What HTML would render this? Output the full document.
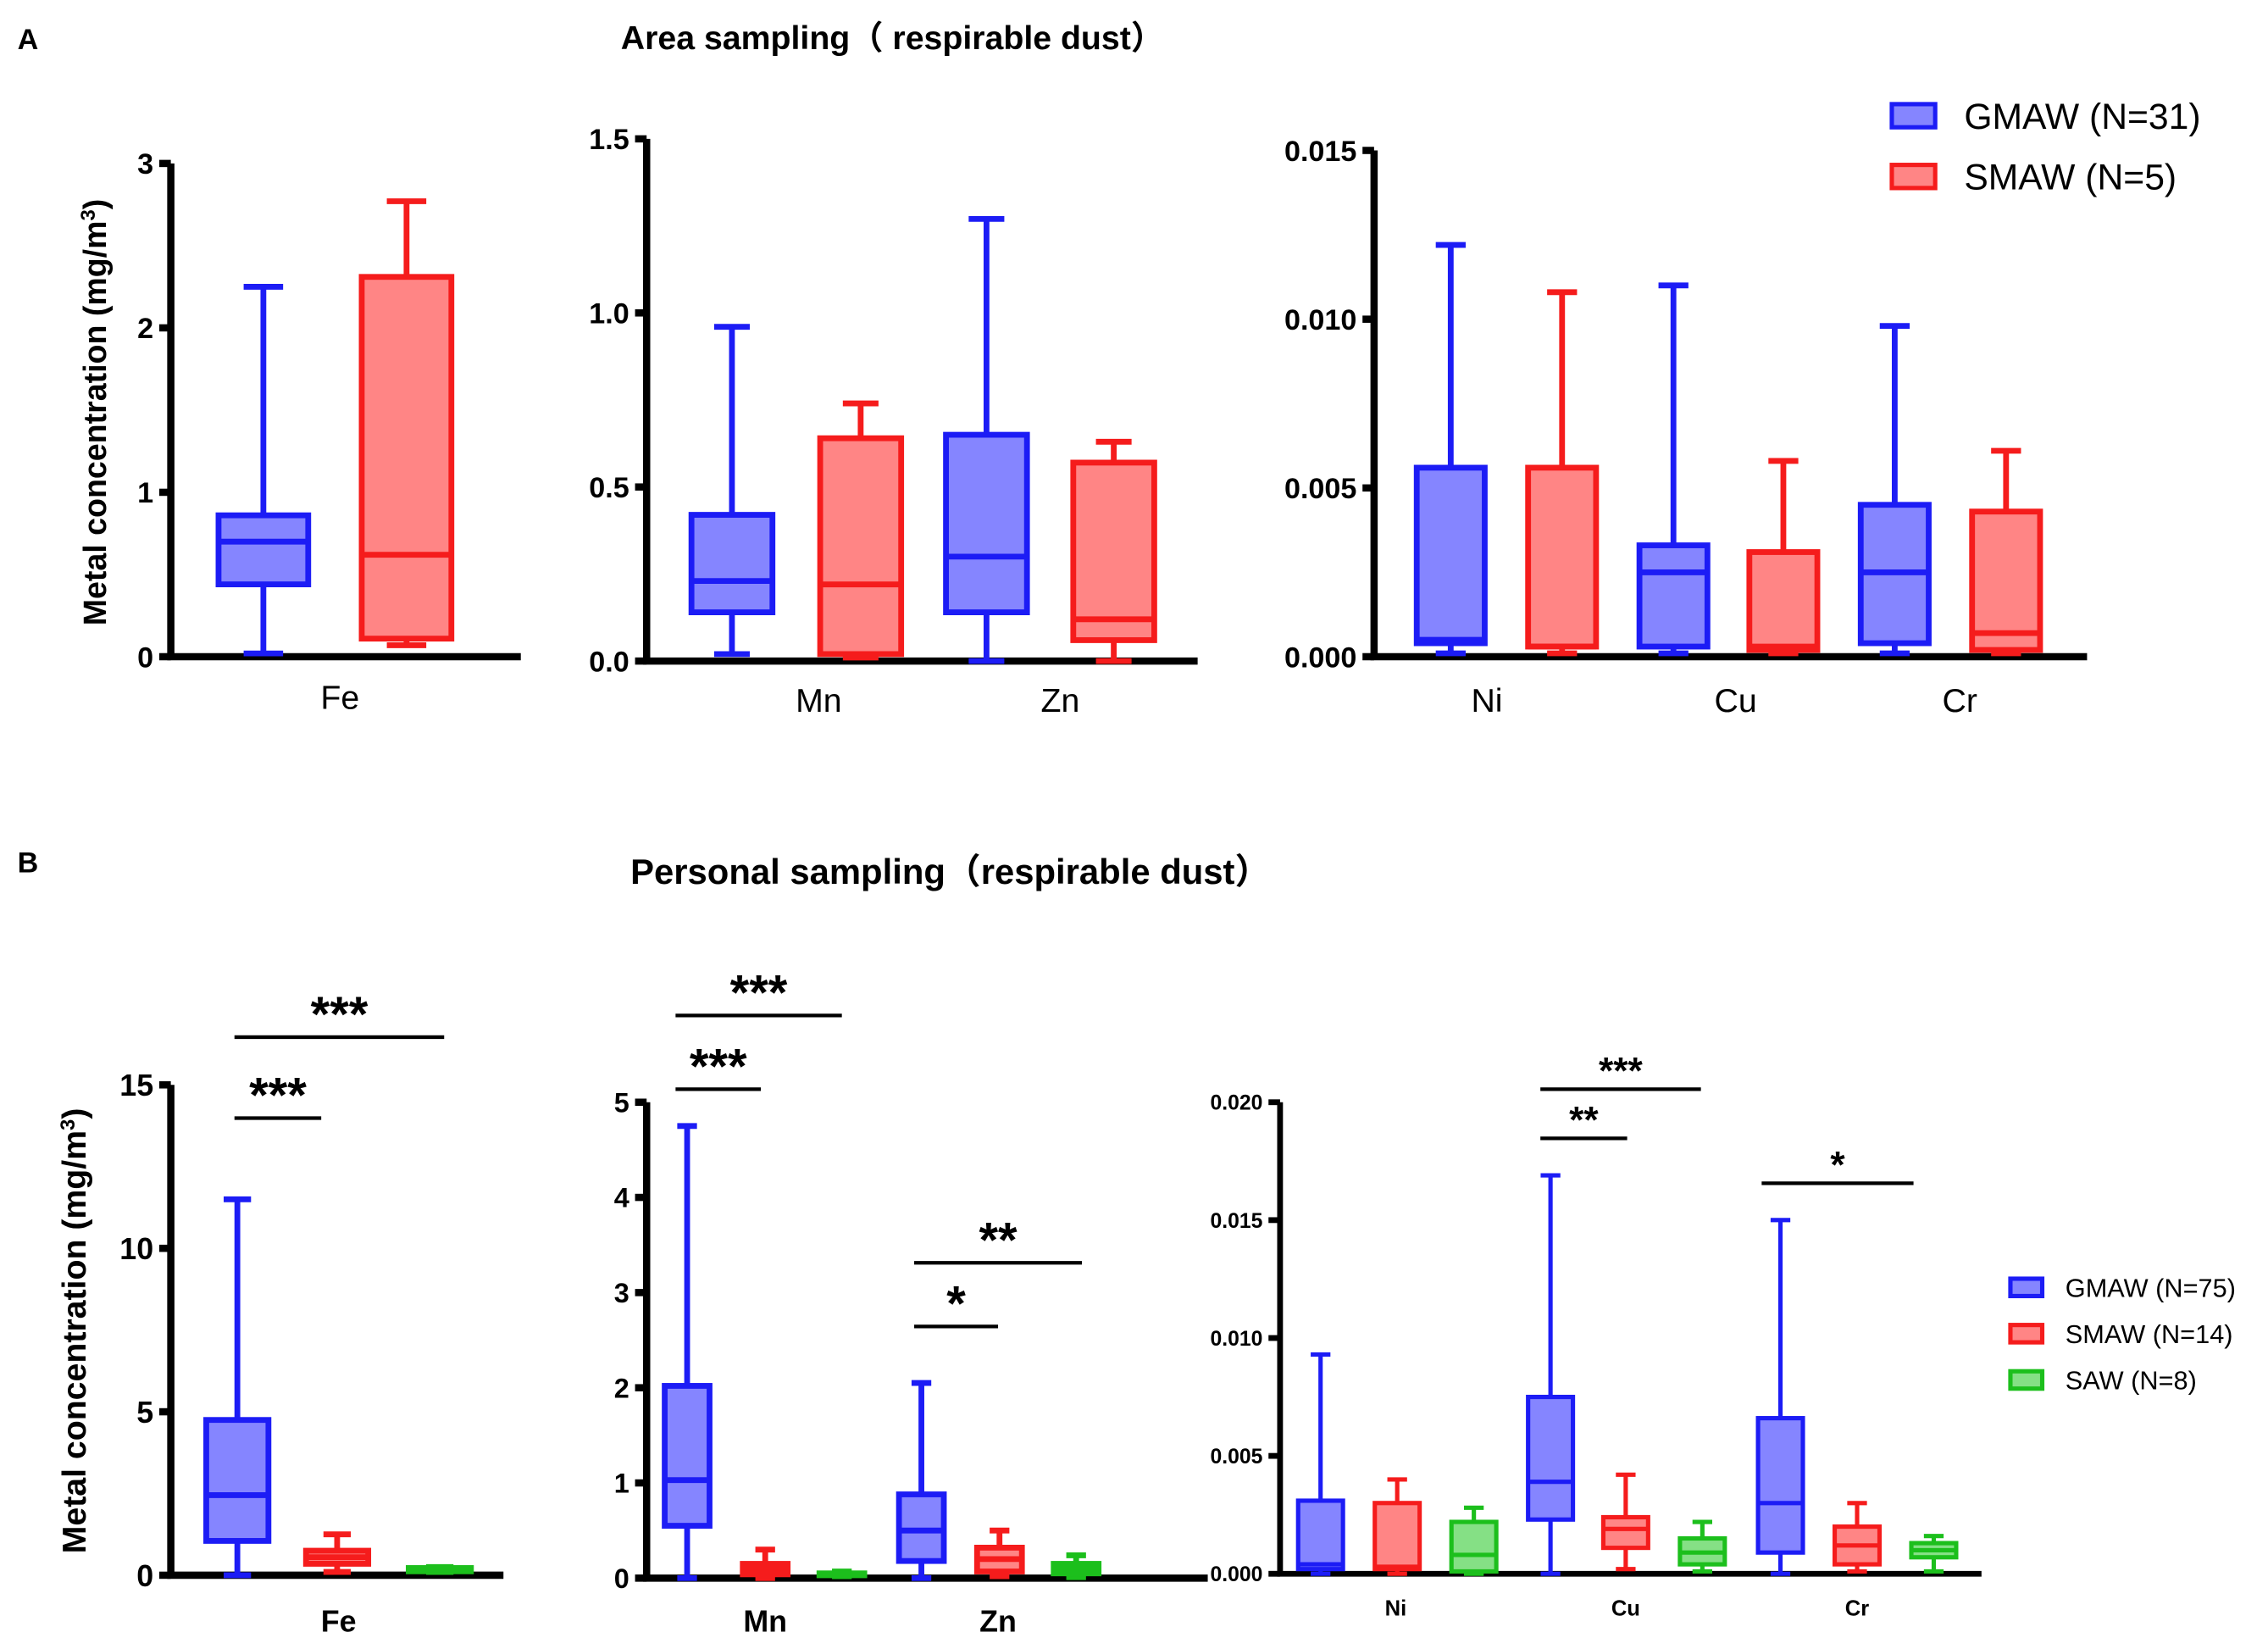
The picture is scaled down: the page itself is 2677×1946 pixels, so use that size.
<!DOCTYPE html>
<html><head><meta charset="utf-8">
<style>
html,body{margin:0;padding:0;background:#fff;}
svg{display:block;}
text{font-family:"Liberation Sans","Noto Sans CJK SC",sans-serif;}
</style></head>
<body>
<svg id="chart" width="2677" height="1946" viewBox="0 0 1568 1140" xmlns="http://www.w3.org/2000/svg">
<text x="12" y="34" font-size="20" font-weight="bold">A</text>
<text x="617" y="34" font-size="23" font-weight="bold" text-anchor="middle">Area sampling（ respirable dust）</text>
<text x="12" y="603" font-size="20" font-weight="bold">B</text>
<text x="657" y="611" font-size="24.5" font-weight="bold" text-anchor="middle">Personal sampling（respirable dust）</text>
<text transform="translate(73,285) rotate(-90)" font-size="22" font-weight="bold" text-anchor="middle">Metal concentration (mg/m<tspan baseline-shift="super" font-size="14">3</tspan>)</text>
<text transform="translate(59,920) rotate(-90)" font-size="23" font-weight="bold" text-anchor="middle">Metal concentration (mg/m<tspan baseline-shift="super" font-size="14">3</tspan>)</text>
<g id="plots"></g>
</svg>
<script>
// Data arrays: each box = [min, q1, median, q3, max]
const a1Cats = ["Fe"];
const a1Boxes = [[0.02,0.44,0.70,0.86,2.25],[0.07,0.11,0.62,2.31,2.77]];
const a1Ticks = ["0","1","2","3"];
const a2Cats = ["Mn","Zn"];
const a2Boxes = [[0.02,0.14,0.23,0.42,0.96],[0.01,0.02,0.22,0.64,0.74],[0.0,0.14,0.30,0.65,1.27],[0.0,0.06,0.12,0.57,0.63]];
const a2Ticks = ["0.0","0.5","1.0","1.5"];
const a3Cats = ["Ni","Cu","Cr"];
const a3Boxes = [[0.0001,0.0004,0.0005,0.0056,0.0122],[0.0001,0.0003,0.0003,0.0056,0.0108],[0.0001,0.0003,0.0025,0.0033,0.0110],[0.0001,0.0002,0.0003,0.0031,0.0058],[0.0001,0.0004,0.0025,0.0045,0.0098],[0.0001,0.0002,0.0007,0.0043,0.0061]];
const a3Ticks = ["0.000","0.005","0.010","0.015"];
const b1Cats = ["Fe"];
const b1Boxes = [[0,1.05,2.45,4.75,11.5],[0.1,0.35,0.55,0.75,1.25],[0.1,0.12,0.18,0.22,0.25]];
const b1Ticks = ["0","5","10","15"];
const b2Cats = ["Mn","Zn"];
const b2Boxes = [[0,0.55,1.03,2.02,4.75],[0,0.04,0.1,0.15,0.3],[0.02,0.03,0.04,0.05,0.07],[0,0.18,0.5,0.88,2.05],[0.02,0.07,0.2,0.32,0.5],[0.01,0.05,0.1,0.15,0.24]];
const b2Ticks = ["0","1","2","3","4","5"];
const b3Cats = ["Ni","Cu","Cr"];
const b3Boxes = [[0,0.0002,0.0004,0.0031,0.0093],[0,0.0002,0.0003,0.0030,0.0040],[0,0.0001,0.0008,0.0022,0.0028],[0,0.0023,0.0039,0.0075,0.0169],[0.0002,0.0011,0.0019,0.0024,0.0042],[0.0001,0.0004,0.0009,0.0015,0.0022],[0,0.0009,0.003,0.0066,0.0150],[0.0001,0.0004,0.0012,0.002,0.003],[0.0001,0.0007,0.001,0.0013,0.0016]];
const b3Ticks = ["0.000","0.005","0.010","0.015","0.020"];
const legendA = ["GMAW (N=31)","SMAW (N=5)"];
const legendB = ["GMAW (N=75)","SMAW (N=14)","SAW (N=8)"];

const NS="http://www.w3.org/2000/svg";
const root=document.getElementById('plots');
const STROKE=["#1c1cf5","#f51c1c","#1cbf1c"];
const FILL=["#8585ff","#ff8585","#85e085"];
function el(tag,attrs,parent){const e=document.createElementNS(NS,tag);for(const k in attrs)e.setAttribute(k,attrs[k]);(parent||root).appendChild(e);return e;}

function panel(cfg){
  const {id,ax,x0,x1,y0,y1,max,ticks,cats,boxes,nGroups,boxXs,boxW,catXs,catY,catSize,catBold,tickSize,sw}=cfg;
  const g=el('g',{});
  
  
  const y=v=>y0-(v/max)*(y0-y1);
  const axis=el('path',{d:`M${ax},${y1} L${ax},${y0} L${x1},${y0}`,stroke:'#000','stroke-width':sw+1,fill:'none'},g);
  
  
  ticks.forEach((t,i)=>{
    const v=max*i/(ticks.length-1);
    el('line',{x1:ax-8,x2:ax,y1:y(v),y2:y(v),stroke:'#000','stroke-width':sw+1},g);
    const tx=el('text',{x:ax-12,y:y(v)+tickSize*0.36,'font-size':tickSize,'font-weight':'bold','text-anchor':'end'},g);
    tx.textContent=t;
    
    
  });
  cats.forEach((c,i)=>{
    const tx=el('text',{x:catXs[i],y:catY,'font-size':catSize,'font-weight':catBold?'bold':'normal','text-anchor':'middle'},g);
    tx.textContent=c;
    
    
  });
  boxes.forEach((b,i)=>{
    const k=i%nGroups;
    const cx=boxXs[i], L=cx-boxW/2, R=cx+boxW/2;
    const bg=el('g',{},g);
    
    
    const s={stroke:STROKE[k],'stroke-width':sw,fill:'none'};
    el('line',Object.assign({x1:cx,x2:cx,y1:y(b[0]),y2:y(b[1])},s),bg);
    el('line',Object.assign({x1:cx,x2:cx,y1:y(b[3]),y2:y(b[4])},s),bg);
    el('line',Object.assign({x1:cx-boxW*0.22,x2:cx+boxW*0.22,y1:y(b[0]),y2:y(b[0])},s),bg);
    el('line',Object.assign({x1:cx-boxW*0.22,x2:cx+boxW*0.22,y1:y(b[4]),y2:y(b[4])},s),bg);
    el('rect',{x:L,y:y(b[3]),width:boxW,height:Math.max(1,y(b[1])-y(b[3])),fill:FILL[k],stroke:STROKE[k],'stroke-width':sw},bg);
    el('line',Object.assign({x1:L,x2:R,y1:y(b[2]),y2:y(b[2])},s),bg);
  });
  return g;
}
function sig(x1,x2,yy,label,size){
  const g=el('g',{});
  
  
  el('line',{x1:x1,x2:x2,y1:yy,y2:yy,stroke:'#000','stroke-width':2.5},g);
  const t=el('text',{x:(x1+x2)/2,y:yy-4+size*0.3,'font-size':size,'font-weight':'bold','text-anchor':'middle'},g);
  t.setAttribute('dy',-size*0.3);
  t.textContent=label;
}
function legend(items,x,y0,dy,size,bw,bh,tx,name){
  const g=el('g',{});
  
  
  items.forEach((s,i)=>{
    const e=el('g',{},g);
    
    
    el('rect',{x:x,y:y0+i*dy-bh/2,width:bw,height:bh,fill:FILL[i],stroke:STROKE[i],'stroke-width':3},e);
    const t=el('text',{x:tx,y:y0+i*dy+size*0.36,'font-size':size},e);
    t.textContent=s;
  });
}

panel({id:'a-fe',ax:118,x0:118,x1:360,y0:454,y1:113,max:3,ticks:a1Ticks,cats:a1Cats,boxes:a1Boxes,nGroups:2,
  boxXs:[182,281],boxW:62,catXs:[235],catY:490,catSize:23,catBold:false,tickSize:20,sw:4});
panel({id:'a-mn-zn',ax:447,x0:447,x1:828,y0:457,y1:96,max:1.5,ticks:a2Ticks,cats:a2Cats,boxes:a2Boxes,nGroups:2,
  boxXs:[506,595,682,770],boxW:56,catXs:[566,733],catY:492,catSize:23,catBold:false,tickSize:20,sw:4});
panel({id:'a-ni-cu-cr',ax:950,x0:950,x1:1443,y0:454,y1:104,max:0.015,ticks:a3Ticks,cats:a3Cats,boxes:a3Boxes,nGroups:2,
  boxXs:[1003,1080,1157,1233,1310,1387],boxW:47,catXs:[1028,1200,1355],catY:492,catSize:23,catBold:false,tickSize:20,sw:4});
legend(legendA,1308,80,42,25,30,16,1358,'legend-a');

panel({id:'b-fe',ax:118,x0:118,x1:348,y0:1089,y1:750,max:15,ticks:b1Ticks,cats:b1Cats,boxes:b1Boxes,nGroups:3,
  boxXs:[164,233,304],boxW:43,catXs:[234],catY:1128,catSize:21,catBold:true,tickSize:21,sw:4});
panel({id:'b-mn-zn',ax:447,x0:447,x1:835,y0:1091,y1:762,max:5,ticks:b2Ticks,cats:b2Cats,boxes:b2Boxes,nGroups:3,
  boxXs:[475,529,582,637,691,744],boxW:31,catXs:[529,690],catY:1128,catSize:21,catBold:true,tickSize:19,sw:4});
panel({id:'b-ni-cu-cr',ax:885,x0:885,x1:1370,y0:1088,y1:762,max:0.02,ticks:b3Ticks,cats:b3Cats,boxes:b3Boxes,nGroups:3,
  boxXs:[913,966,1019,1072,1124,1177,1231,1284,1337],boxW:31,catXs:[965,1124,1284],catY:1117,catSize:15,catBold:true,tickSize:14.5,sw:3});
sig(162,222,773,'***',34);
sig(162,307,717,'***',34);
sig(467,526,753,'***',34);
sig(467,582,702,'***',34);
sig(632,690,917,'*',34);
sig(632,748,873,'**',34);
sig(1065,1125,787,'**',26);
sig(1065,1176,753,'***',26);
sig(1218,1323,818,'*',26);
legend(legendB,1390,890,32,18,22,12,1428,'legend-b');
</script>
</body></html>
